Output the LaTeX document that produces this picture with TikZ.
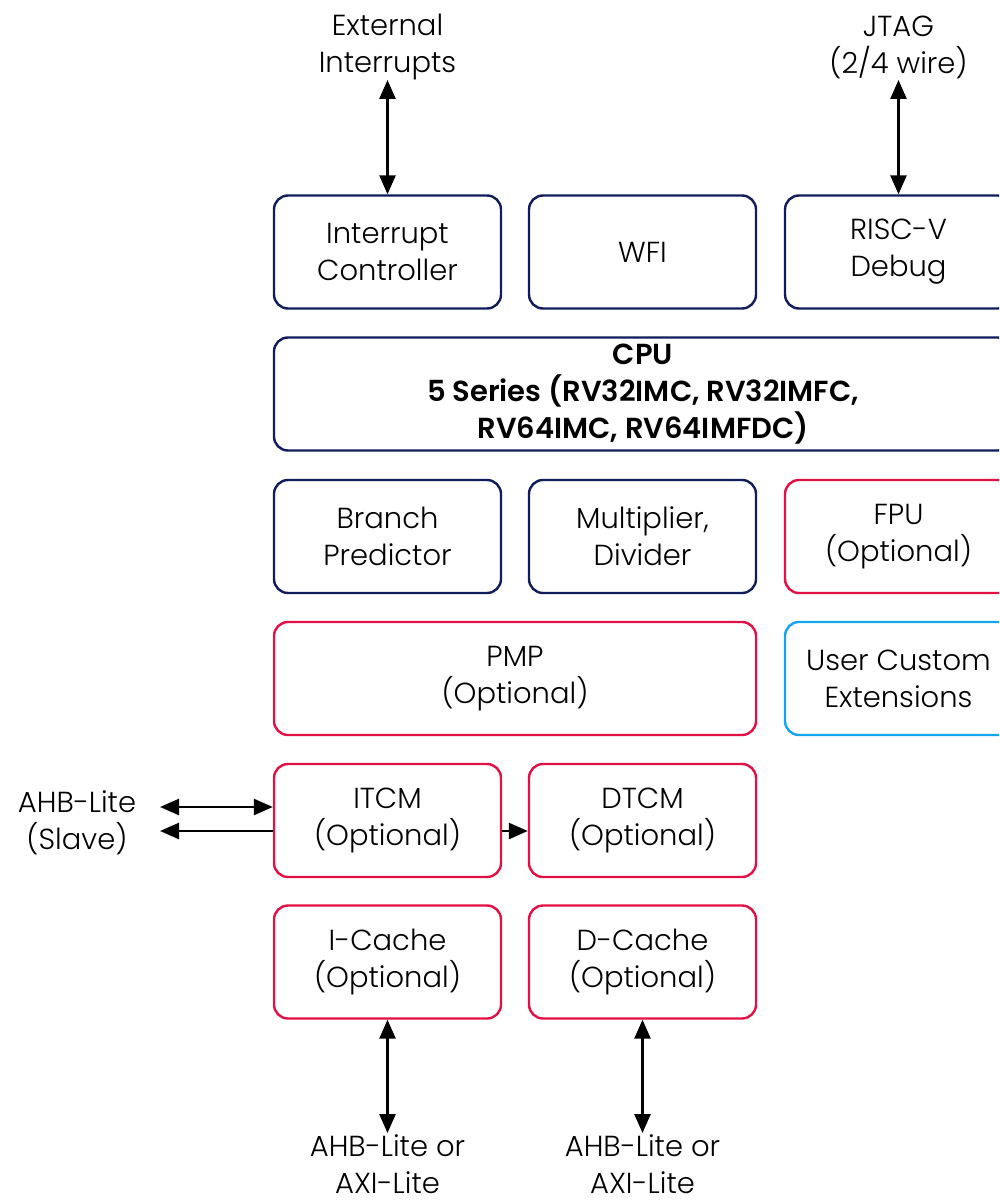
\documentclass[tikz,border=0pt]{standalone}
\usepackage{fontspec}
\setmainfont{Poppins}[UprightFont=* Light, BoldFont=* SemiBold]
\usetikzlibrary{arrows.meta}
\definecolor{navy}{RGB}{16,28,92}
\definecolor{crimson}{RGB}{226,16,68}
\definecolor{sky}{RGB}{20,164,240}
\tikzset{
  blk/.style={draw, line width=2.4pt, rounded corners=14pt, minimum width=227pt,
    minimum height=113pt, align=center, inner sep=0pt,
    font=\fontsize{29}{37}\selectfont},
  core/.style={blk, draw=navy},
  opt/.style={blk, draw=crimson},
  ext/.style={blk, draw=sky},
  lbl/.style={align=center, inner sep=0pt, font=\fontsize{29}{37}\selectfont},
  link/.style={line width=2.6pt, {Triangle[length=19pt,width=16pt]}-{Triangle[length=19pt,width=16pt]}},
  onelink/.style={line width=2.6pt, -{Triangle[length=19pt,width=16pt]}}
}
\begin{document}
\begin{tikzpicture}[x=1pt,y=-1pt]
\useasboundingbox (0,0) rectangle (999,1201);
\begin{scope}
\clip (0,0) rectangle (999,1201);
% top row
\node[core] (intc) at (387.5,252) {Interrupt\\Controller};
\node[core] (wfi) at (642.5,252) {WFI};
\node[core] (dbg) at (898.5,252) {RISC-V\\Debug};
% core
\node[core, minimum width=738pt] (cpu) at (643,394)
  {\textbf{CPU}\\\textbf{5 Series (RV32IMC, RV32IMFC,}\\\textbf{RV64IMC, RV64IMFDC)}};
% execution units
\node[core] (bp) at (387.5,536.5) {Branch\\Predictor};
\node[core] (mul) at (642.5,536.5) {Multiplier,\\Divider};
\node[opt] (fpu) at (898.5,536.5) {FPU\\(Optional)};
% protection and extensions
\node[opt, minimum width=482pt] (pmp) at (515,678.5) {PMP\\(Optional)};
\node[ext] (uce) at (898.5,678.5) {User Custom\\Extensions};
% memories
\node[opt] (itcm) at (387.5,820.5) {ITCM\\(Optional)};
\node[opt] (dtcm) at (642.5,820.5) {DTCM\\(Optional)};
\node[opt] (icache) at (387.5,962) {I-Cache\\(Optional)};
\node[opt] (dcache) at (642.5,962) {D-Cache\\(Optional)};
\end{scope}
% external labels
\node[lbl] (irq) at (387.5,47) {External\\Interrupts};
\node[lbl] (jtag) at (898.5,47) {JTAG\\(2/4 wire)};
\node[lbl] (slave) at (77,822.5) {AHB-Lite\\(Slave)};
\node[lbl] (ibus) at (387.5,1164) {AHB-Lite or\\AXI-Lite};
\node[lbl] (dbus) at (642.5,1164) {AHB-Lite or\\AXI-Lite};
% connector ends
\coordinate (irqend) at (387.5,80);
\coordinate (jtagend) at (898.5,80);
\coordinate (ibusend) at (387.5,1133);
\coordinate (dbusend) at (642.5,1133);
\coordinate (slvin) at (160,807);
\coordinate (slvout) at (160,831);
\coordinate (tcmlink) at (0,831);
% connectors
\draw[link] (irqend) -- (intc.north);
\draw[link] (jtagend) -- (dbg.north);
\draw[link] (icache.south) -- (ibusend);
\draw[link] (dcache.south) -- (dbusend);
\draw[link] (slvin) -- (itcm.west |- slvin);
\draw[onelink] (itcm.west |- slvout) -- (slvout);
\draw[onelink] (itcm.east |- tcmlink) -- (dtcm.west |- tcmlink);
\end{tikzpicture}
\end{document}
